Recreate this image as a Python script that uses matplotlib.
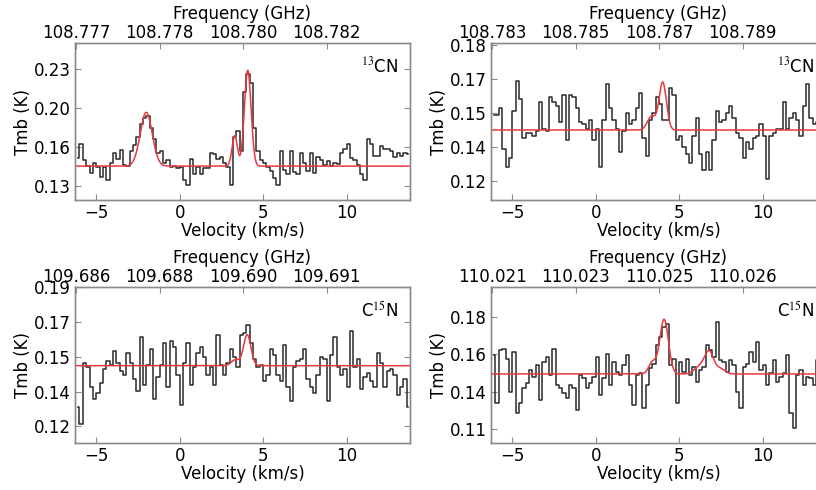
import numpy as np
import matplotlib
matplotlib.use("Agg")
import matplotlib.pyplot as plt
import matplotlib.transforms as mtransforms

plt.rcParams['font.family'] = ['DejaVu Sans']
plt.rcParams['mathtext.fontset'] = 'stix'

# velocity channels (km/s), 0.2 km/s wide
vel = np.round(np.arange(100) * 0.2 - 6.1, 2)

# 13CN, first setting
tmb_a = [0.154, 0.166, 0.152, 0.147, 0.141, 0.150, 0.146, 0.138, 0.146, 0.135,
         0.150, 0.158, 0.153, 0.161, 0.148, 0.147, 0.160, 0.165, 0.172, 0.183,
         0.188, 0.190, 0.180, 0.170, 0.158, 0.160, 0.150, 0.152, 0.146, 0.147,
         0.145, 0.146, 0.135, 0.131, 0.153, 0.140, 0.146, 0.140, 0.145, 0.145,
         0.158, 0.157, 0.153, 0.155, 0.150, 0.146, 0.131, 0.172, 0.177, 0.160,
         0.210, 0.226, 0.218, 0.180, 0.160, 0.152, 0.150, 0.146, 0.143, 0.137,
         0.131, 0.160, 0.144, 0.140, 0.160, 0.142, 0.140, 0.158, 0.150, 0.143,
         0.158, 0.141, 0.155, 0.152, 0.148, 0.151, 0.147, 0.150, 0.149, 0.158,
         0.162, 0.166, 0.154, 0.152, 0.148, 0.140, 0.135, 0.170, 0.166, 0.156,
         0.156, 0.164, 0.162, 0.162, 0.160, 0.155, 0.158, 0.156, 0.158, 0.157]

# 13CN, second setting
tmb_b = [0.149, 0.149, 0.152, 0.134, 0.126, 0.130, 0.151, 0.164, 0.156, 0.139,
         0.141, 0.141, 0.140, 0.142, 0.155, 0.143, 0.142, 0.157, 0.155, 0.153,
         0.146, 0.158, 0.138, 0.158, 0.157, 0.152, 0.146, 0.145, 0.143, 0.147,
         0.138, 0.143, 0.126, 0.147, 0.163, 0.152, 0.147, 0.143, 0.133, 0.142,
         0.150, 0.145, 0.147, 0.152, 0.159, 0.139, 0.131, 0.147, 0.150, 0.157,
         0.154, 0.147, 0.147, 0.161, 0.158, 0.138, 0.140, 0.135, 0.132, 0.128,
         0.140, 0.148, 0.132, 0.125, 0.133, 0.125, 0.138, 0.151, 0.146, 0.147,
         0.150, 0.153, 0.148, 0.141, 0.139, 0.130, 0.137, 0.134, 0.139, 0.140,
         0.145, 0.140, 0.121, 0.140, 0.141, 0.143, 0.143, 0.155, 0.143, 0.148,
         0.150, 0.147, 0.140, 0.153, 0.163, 0.148, 0.145, 0.146, 0.150, 0.145]

# C15N, first setting
tmb_c = [0.130, 0.121, 0.152, 0.150, 0.140, 0.134, 0.137, 0.142, 0.149, 0.153,
         0.151, 0.158, 0.152, 0.148, 0.146, 0.157, 0.152, 0.144, 0.138, 0.165,
         0.141, 0.151, 0.159, 0.134, 0.145, 0.151, 0.162, 0.140, 0.163, 0.160,
         0.146, 0.131, 0.152, 0.162, 0.141, 0.150, 0.157, 0.160, 0.155, 0.146,
         0.150, 0.141, 0.166, 0.151, 0.146, 0.152, 0.159, 0.155, 0.150, 0.166,
         0.167, 0.171, 0.162, 0.154, 0.150, 0.151, 0.143, 0.146, 0.159, 0.156,
         0.146, 0.143, 0.161, 0.140, 0.133, 0.150, 0.153, 0.154, 0.159, 0.144,
         0.140, 0.137, 0.146, 0.155, 0.154, 0.133, 0.156, 0.165, 0.150, 0.146,
         0.149, 0.140, 0.168, 0.150, 0.154, 0.139, 0.145, 0.147, 0.143, 0.140,
         0.157, 0.152, 0.140, 0.148, 0.149, 0.146, 0.136, 0.140, 0.144, 0.130]

# C15N, second setting
tmb_d = [0.157, 0.128, 0.160, 0.161, 0.155, 0.135, 0.159, 0.122, 0.128, 0.137,
         0.140, 0.148, 0.144, 0.151, 0.130, 0.153, 0.156, 0.145, 0.161, 0.139,
         0.137, 0.134, 0.131, 0.139, 0.137, 0.124, 0.145, 0.143, 0.137, 0.140,
         0.144, 0.156, 0.133, 0.143, 0.158, 0.139, 0.153, 0.147, 0.145, 0.151,
         0.157, 0.139, 0.127, 0.145, 0.146, 0.125, 0.139, 0.149, 0.152, 0.163,
         0.168, 0.174, 0.176, 0.151, 0.155, 0.128, 0.153, 0.147, 0.155, 0.145,
         0.150, 0.141, 0.148, 0.150, 0.163, 0.160, 0.156, 0.177, 0.154, 0.153,
         0.147, 0.154, 0.151, 0.135, 0.125, 0.150, 0.152, 0.159, 0.153, 0.165,
         0.148, 0.151, 0.139, 0.146, 0.154, 0.141, 0.144, 0.146, 0.157, 0.122,
         0.113, 0.145, 0.148, 0.139, 0.144, 0.143, 0.139, 0.154, 0.150, 0.152]

# gaussian fits: baseline, then (centre, amplitude, sigma) per component
fit_a = (0.147, [(-2.0, 0.046, 0.36), (3.3, 0.026, 0.16), (4.08, 0.082, 0.20)])
fit_b = (0.1425, [(3.35, 0.006, 0.25), (4.02, 0.021, 0.22)])
fit_c = (0.1505, [(3.35, 0.003, 0.25), (4.05, 0.0155, 0.22)])
fit_d = (0.1457, [(3.4, 0.007, 0.22), (4.1, 0.033, 0.26), (6.2, 0.004, 0.3),
                  (6.8, 0.0135, 0.28), (7.5, 0.003, 0.25)])

spectra = [tmb_a, tmb_b, tmb_c, tmb_d]
fits = [fit_a, fit_b, fit_c, fit_d]
species = [r'$^{13}$CN', r'$^{13}$CN', r'C$^{15}$N', r'C$^{15}$N']

freq_labels = [['108.777', '108.778', '108.780', '108.782'],
               ['108.783', '108.785', '108.787', '108.789'],
               ['109.686', '109.688', '109.690', '109.691'],
               ['110.021', '110.023', '110.025', '110.026']]
freq_tick_vel = [-6.2, -1.2, 3.8, 8.8]

ytick_vals = [[0.13, 0.16333, 0.19667, 0.23],
              [0.12, 0.135, 0.15, 0.165, 0.18],
              [0.12, 0.1375, 0.155, 0.1725, 0.19],
              [0.1125, 0.135, 0.1575, 0.18]]
ytick_labels = [['0.13', '0.16', '0.20', '0.23'],
                ['0.12', '0.14', '0.15', '0.17', '0.18'],
                ['0.12', '0.14', '0.15', '0.17', '0.19'],
                ['0.11', '0.14', '0.16', '0.18']]
ylims = [(0.118, 0.2523), (0.1116, 0.1809), (0.1117, 0.19), (0.104, 0.1982)]
xlim = (-6.27, 13.8)

positions = [[0.0919, 0.5918, 0.4105, 0.3204],
             [0.6017, 0.5918, 0.4105, 0.3204],
             [0.0919, 0.0959, 0.4105, 0.3184],
             [0.6017, 0.0959, 0.4105, 0.3184]]

spine_col = '#8a8a8a'
fs = 12
fig = plt.figure(figsize=(8.16, 4.9), dpi=100)

for k in range(4):
    ax = fig.add_axes(positions[k])
    ax.step(vel, spectra[k], where='mid', color='#2a2a2a', lw=1.1, zorder=2)

    vfine = np.linspace(xlim[0], xlim[1], 1500)
    base, comps = fits[k]
    model = np.full_like(vfine, base)
    for c, a, s in comps:
        model += a * np.exp(-(vfine - c) ** 2 / (2 * s ** 2))
    ax.plot(vfine, model, color='#e8383d', lw=1.1, zorder=3)

    ax.set_xlim(xlim)
    ax.set_ylim(ylims[k])
    ax.set_xticks([-5, 0, 5, 10])
    ax.set_yticks(ytick_vals[k])
    ax.set_yticklabels(ytick_labels[k])
    ax.tick_params(direction='in', length=4, width=0.8, color=spine_col,
                   labelsize=fs, right=True, pad=3)
    ax.set_xlabel('Velocity (km/s)', fontsize=fs, labelpad=0)
    ax.set_ylabel('Tmb (K)', fontsize=fs, labelpad=1)
    for sp in ax.spines.values():
        sp.set_color(spine_col)
        sp.set_linewidth(1.0)

    top = ax.twiny()
    top.set_xlim(xlim)
    top.set_xticks(freq_tick_vel)
    top.set_xticklabels(freq_labels[k])
    top.tick_params(direction='in', length=4, width=0.8, color=spine_col,
                    labelsize=fs, pad=1)
    top.set_xlabel('Frequency (GHz)', fontsize=fs, labelpad=3)
    for sp in top.spines.values():
        sp.set_color(spine_col)
        sp.set_linewidth(1.0)

    trans = mtransforms.blended_transform_factory(ax.transData, ax.transAxes)
    ax.text(10.85, 0.85, species[k], transform=trans, fontsize=fs,
            ha='left', va='center')

fig.savefig('out.png', dpi=100)
